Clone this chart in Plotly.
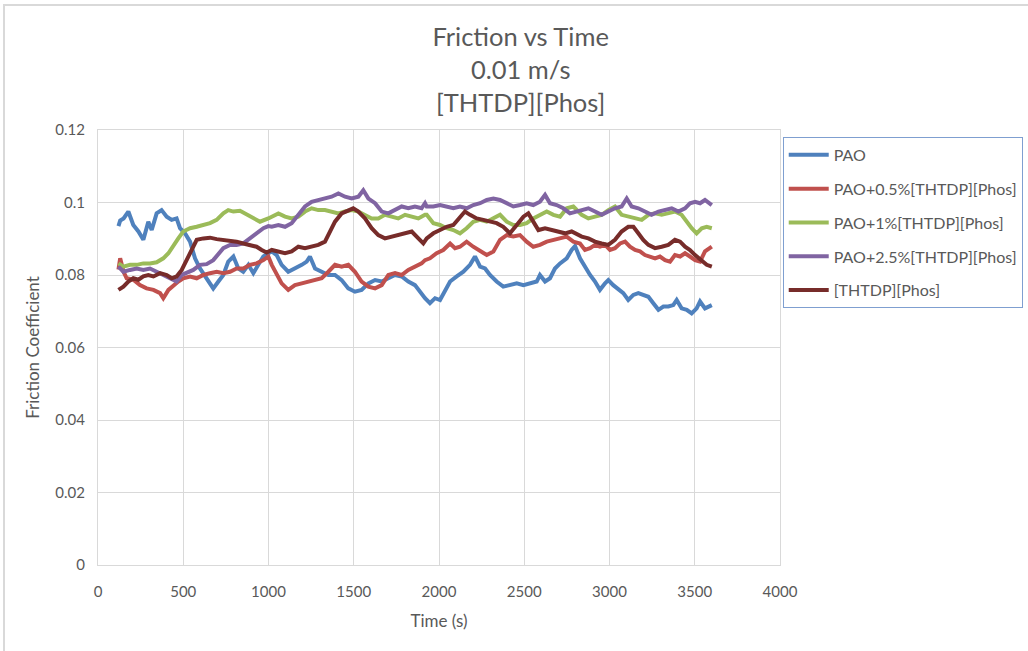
import plotly.graph_objects as go

# ---- data ----
pao_t = [120, 130, 150, 178, 207, 237, 266, 295, 315, 344, 373, 403, 432, 461, 481, 510, 540, 569, 598, 637, 676, 706, 735, 764, 794, 823, 852, 882, 911, 940, 970, 999,
         1019, 1048, 1077, 1116, 1155, 1195, 1224, 1243, 1273, 1312, 1351, 1390, 1429, 1468, 1507, 1546, 1586, 1625, 1664, 1703, 1742, 1781, 1820, 1859, 1898,
         1918, 1947, 1977, 2006, 2035, 2065, 2104, 2143, 2182, 2211, 2241, 2270, 2299, 2338, 2377, 2416, 2456, 2495, 2534, 2573, 2592, 2622, 2651, 2680, 2710, 2749, 2778, 2798,
         2827, 2856, 2886, 2915, 2944, 2974, 2993, 3022, 3052, 3081, 3110, 3140, 3169, 3198, 3228, 3257, 3287, 3316, 3345, 3374, 3394, 3423, 3453, 3482, 3511, 3531, 3560, 3600]
pao_f = [0.0935, 0.0950, 0.0956, 0.0975, 0.0938, 0.0920, 0.0897, 0.0947, 0.0924, 0.0970, 0.0979, 0.0961, 0.0952, 0.0956, 0.0929, 0.0915, 0.0892, 0.0846, 0.0818, 0.0791, 0.0763, 0.0782, 0.0800, 0.0837, 0.0851, 0.0818, 0.0809, 0.0828, 0.0805, 0.0828, 0.0851, 0.0860,
         0.0865, 0.0855, 0.0828, 0.0809, 0.0818, 0.0828, 0.0837, 0.0851, 0.0818, 0.0809, 0.0800, 0.0800, 0.0786, 0.0763, 0.0754, 0.0759, 0.0777, 0.0786, 0.0782, 0.0791, 0.0800, 0.0796, 0.0782, 0.0772, 0.0745,
         0.0736, 0.0722, 0.0736, 0.0731, 0.0759, 0.0782, 0.0796, 0.0809, 0.0828, 0.0851, 0.0823, 0.0818, 0.0800, 0.0782, 0.0768, 0.0772, 0.0777, 0.0772, 0.0777, 0.0782, 0.0800, 0.0782, 0.0791, 0.0818, 0.0832, 0.0846, 0.0869, 0.0880,
         0.0846, 0.0823, 0.0800, 0.0782, 0.0759, 0.0777, 0.0786, 0.0772, 0.0759, 0.0750, 0.0731, 0.0745, 0.0750, 0.0745, 0.0740, 0.0722, 0.0704, 0.0713, 0.0713, 0.0717, 0.0731, 0.0708, 0.0704, 0.0694, 0.0708, 0.0727, 0.0708, 0.0717]

p05_t = [120, 130, 150, 168, 207, 246, 285, 325, 364, 383, 413, 442, 471, 500, 540, 579, 618, 657, 696, 735, 774, 813, 852, 891, 930, 970, 999,
         1019, 1048, 1077, 1116, 1155, 1195, 1234, 1273, 1312, 1351, 1390, 1429, 1468, 1507, 1546, 1586, 1625, 1664, 1703, 1742, 1781, 1820, 1859, 1898, 1918,
         1947, 1986, 2025, 2065, 2094, 2123, 2162, 2201, 2241, 2280, 2319, 2358, 2397, 2436, 2475, 2514, 2553, 2592, 2632, 2671, 2710, 2749, 2788,
         2827, 2856, 2886, 2915, 2944, 2974, 3003, 3032, 3062, 3091, 3120, 3150, 3179, 3208, 3238, 3267, 3296, 3326, 3355, 3384, 3414, 3443, 3472, 3502, 3531, 3560, 3600]
p05_f = [0.0815, 0.0846, 0.0809, 0.0791, 0.0787, 0.0772, 0.0763, 0.0759, 0.0750, 0.0736, 0.0759, 0.0772, 0.0782, 0.0791, 0.0796, 0.0791, 0.0800, 0.0805, 0.0809, 0.0805, 0.0809, 0.0818, 0.0818, 0.0828, 0.0832, 0.0841, 0.0851,
         0.0828, 0.0800, 0.0777, 0.0759, 0.0772, 0.0777, 0.0782, 0.0786, 0.0791, 0.0809, 0.0828, 0.0823, 0.0828, 0.0809, 0.0782, 0.0768, 0.0763, 0.0772, 0.0800, 0.0805, 0.0800, 0.0814, 0.0823, 0.0832, 0.0841,
         0.0846, 0.0860, 0.0869, 0.0887, 0.0874, 0.0878, 0.0892, 0.0878, 0.0865, 0.0855, 0.0865, 0.0897, 0.0910, 0.0906, 0.0910, 0.0892, 0.0878, 0.0883, 0.0892, 0.0897, 0.0901, 0.0906, 0.0892,
         0.0887, 0.0869, 0.0874, 0.0883, 0.0878, 0.0883, 0.0869, 0.0874, 0.0887, 0.0892, 0.0878, 0.0869, 0.0865, 0.0855, 0.0851, 0.0846, 0.0851, 0.0841, 0.0837, 0.0855, 0.0851, 0.0860, 0.0851, 0.0841, 0.0837, 0.0865, 0.0878]

p1_t = [120, 149, 188, 227, 266, 305, 344, 383, 413, 442, 471, 500, 540, 579, 618, 657, 696, 735, 764, 794, 833, 872, 911, 950, 999,
        1019, 1058, 1097, 1136, 1175, 1214, 1253, 1292, 1331, 1370, 1410, 1449, 1488, 1527, 1566, 1605, 1644, 1683, 1722, 1761, 1801, 1840, 1879, 1918,
        1928, 1967, 2006, 2045, 2084, 2123, 2162, 2201, 2241, 2280, 2319, 2358, 2397, 2436, 2475, 2514, 2553, 2592, 2632, 2671, 2710, 2749, 2788,
        2837, 2876, 2915, 2954, 2993, 3032, 3071, 3110, 3150, 3189, 3228, 3267, 3306, 3345, 3384, 3423, 3453, 3482, 3511, 3541, 3570, 3600]
p1_f = [0.0832, 0.0823, 0.0828, 0.0828, 0.0832, 0.0832, 0.0835, 0.0846, 0.0860, 0.0883, 0.0901, 0.0920, 0.0929, 0.0933, 0.0938, 0.0943, 0.0952, 0.0970, 0.0979, 0.0975, 0.0977, 0.0966, 0.0956, 0.0947, 0.0956,
        0.0961, 0.0970, 0.0961, 0.0956, 0.0961, 0.0975, 0.0984, 0.0979, 0.0979, 0.0975, 0.0970, 0.0975, 0.0979, 0.0975, 0.0966, 0.0956, 0.0956, 0.0966, 0.0961, 0.0956, 0.0966, 0.0961, 0.0956, 0.0966,
        0.0966, 0.0943, 0.0938, 0.0929, 0.0924, 0.0915, 0.0929, 0.0947, 0.0952, 0.0947, 0.0956, 0.0966, 0.0947, 0.0938, 0.0938, 0.0943, 0.0956, 0.0966, 0.0975, 0.0966, 0.0961, 0.0984, 0.0989,
        0.0966, 0.0956, 0.0961, 0.0966, 0.0979, 0.0989, 0.0966, 0.0961, 0.0956, 0.0952, 0.0966, 0.0970, 0.0966, 0.0970, 0.0975, 0.0966, 0.0947, 0.0929, 0.0915, 0.0929, 0.0933, 0.0929]

p25_t = [120, 149, 188, 227, 266, 305, 344, 383, 422, 461, 491, 520, 559, 598, 637, 676, 706, 735, 774, 813, 852, 891, 930, 970, 999,
         1019, 1058, 1097, 1136, 1175, 1214, 1253, 1292, 1331, 1370, 1410, 1449, 1488, 1527, 1556, 1586, 1625, 1664, 1703, 1742, 1781, 1820, 1859, 1898, 1918,
         1928, 1967, 2006, 2045, 2084, 2123, 2162, 2201, 2241, 2280, 2319, 2358, 2397, 2436, 2475, 2514, 2553, 2592, 2622, 2651, 2690, 2729, 2768, 2808,
         2837, 2876, 2915, 2954, 2993, 3032, 3071, 3101, 3130, 3169, 3208, 3247, 3287, 3326, 3365, 3404, 3443, 3472, 3502, 3531, 3560, 3600]
p25_f = [0.0823, 0.0809, 0.0814, 0.0818, 0.0814, 0.0818, 0.0809, 0.0800, 0.0791, 0.0782, 0.0800, 0.0805, 0.0814, 0.0828, 0.0830, 0.0841, 0.0860, 0.0874, 0.0883, 0.0883, 0.0887, 0.0901, 0.0915, 0.0929, 0.0935,
         0.0933, 0.0938, 0.0933, 0.0943, 0.0966, 0.0989, 0.1002, 0.1007, 0.1011, 0.1016, 0.1025, 0.1016, 0.1011, 0.1016, 0.1034, 0.1011, 0.0998, 0.0975, 0.0970, 0.0979, 0.0989, 0.0984, 0.0989, 0.0984, 0.0998,
         0.0989, 0.0989, 0.0993, 0.0989, 0.0984, 0.0989, 0.0984, 0.0993, 0.0998, 0.1007, 0.1011, 0.1007, 0.0998, 0.0989, 0.0993, 0.0998, 0.0993, 0.1002, 0.1021, 0.0998, 0.0993, 0.0984, 0.0970, 0.0975,
         0.0979, 0.0984, 0.0975, 0.0966, 0.0975, 0.0984, 0.0989, 0.1011, 0.0989, 0.0984, 0.0975, 0.0966, 0.0975, 0.0979, 0.0984, 0.0975, 0.0984, 0.0998, 0.1002, 0.0998, 0.1007, 0.0993]

th_t = [120, 149, 178, 207, 237, 266, 295, 325, 364, 403, 432, 461, 491, 520, 549, 579, 618, 657, 696, 735, 774, 813, 852, 891, 930, 960, 989,
        1019, 1058, 1097, 1136, 1175, 1214, 1253, 1292, 1331, 1361, 1390, 1429, 1468, 1497, 1527, 1566, 1605, 1644, 1683, 1722, 1761, 1801, 1840, 1879, 1908,
        1928, 1967, 2006, 2045, 2084, 2123, 2152, 2182, 2221, 2260, 2299, 2338, 2377, 2416, 2456, 2495, 2524, 2553, 2583, 2622, 2661, 2700, 2739, 2778,
        2837, 2876, 2915, 2954, 2993, 3032, 3071, 3110, 3140, 3169, 3198, 3228, 3267, 3306, 3345, 3384, 3414, 3443, 3472, 3502, 3541, 3570, 3600]
th_f = [0.0759, 0.0768, 0.0782, 0.0791, 0.0787, 0.0796, 0.0800, 0.0796, 0.0805, 0.0800, 0.0791, 0.0796, 0.0814, 0.0841, 0.0874, 0.0897, 0.0901, 0.0903, 0.0899, 0.0897, 0.0894, 0.0892, 0.0887, 0.0883, 0.0878, 0.0869, 0.0862,
        0.0869, 0.0865, 0.0860, 0.0865, 0.0878, 0.0874, 0.0878, 0.0883, 0.0892, 0.0920, 0.0947, 0.0970, 0.0979, 0.0984, 0.0975, 0.0956, 0.0929, 0.0910, 0.0901, 0.0906, 0.0910, 0.0915, 0.0920, 0.0901, 0.0887,
        0.0901, 0.0915, 0.0924, 0.0933, 0.0938, 0.0961, 0.0975, 0.0966, 0.0956, 0.0952, 0.0947, 0.0943, 0.0933, 0.0915, 0.0938, 0.0961, 0.0970, 0.0947, 0.0924, 0.0929, 0.0924, 0.0920, 0.0915, 0.0920,
        0.0906, 0.0901, 0.0892, 0.0887, 0.0883, 0.0897, 0.0920, 0.0933, 0.0933, 0.0915, 0.0897, 0.0883, 0.0874, 0.0878, 0.0883, 0.0897, 0.0892, 0.0878, 0.0869, 0.0855, 0.0841, 0.0828, 0.0823]

series_names = ["PAO", "PAO+0.5%[THTDP][Phos]", "PAO+1%[THTDP][Phos]", "PAO+2.5%[THTDP][Phos]", "[THTDP][Phos]"]
series_colors = ["#4F81BD", "#C0504D", "#9BBB59", "#8064A2", "#772C2A"]
series_t = [pao_t, p05_t, p1_t, p25_t, th_t]
series_f = [pao_f, p05_f, p1_f, p25_f, th_f]

x_ticks = [0, 500, 1000, 1500, 2000, 2500, 3000, 3500, 4000]
y_ticks = [0, 0.02, 0.04, 0.06, 0.08, 0.1, 0.12]
y_tick_labels = ["0", "0.02", "0.04", "0.06", "0.08", "0.1", "0.12"]

FONT = "Lato"
GREY = "#595959"
GRID = "#D9D9D9"

fig = go.Figure()
for name, color, t, f in zip(series_names, series_colors, series_t, series_f):
    fig.add_trace(go.Scatter(x=t, y=f, mode="lines", name=name, legendgroup=name,
                             line=dict(color=color, width=4)))

fig.update_layout(
    width=1028, height=651,
    paper_bgcolor="white", plot_bgcolor="white",
    margin=dict(l=98, r=248, t=130, b=86, autoexpand=False),
    font=dict(family=FONT, color=GREY, size=15),
    title=dict(text="Friction vs Time<br>0.01 m/s<br>[THTDP][Phos]",
               x=0.5065, xanchor="center", y=0.93, yanchor="top",
               font=dict(family=FONT, size=25.5, color=GREY)),
    showlegend=True,
    legend=dict(x=1.004, xanchor="left", y=0.984, yanchor="top",
                bordercolor="#7F9FD0", borderwidth=1, bgcolor="white",
                font=dict(family=FONT, size=16, color=GREY),
                tracegroupgap=10, itemwidth=40,
                entrywidth=182, entrywidthmode="pixels"),
    xaxis=dict(range=[0, 4000], tickvals=x_ticks, ticktext=[str(v) for v in x_ticks],
               showgrid=True, gridcolor=GRID, gridwidth=1, zeroline=False,
               showline=True, linecolor=GRID, linewidth=1, mirror=True, ticks="",
               ticklabelstandoff=13,
               tickfont=dict(family=FONT, size=15, color=GREY),
               title=dict(text="Time (s)", font=dict(family=FONT, size=17, color=GREY), standoff=16)),
    yaxis=dict(range=[0, 0.12], tickvals=y_ticks, ticktext=y_tick_labels,
               showgrid=True, gridcolor=GRID, gridwidth=1, zeroline=False,
               showline=True, linecolor=GRID, linewidth=1, mirror=True, ticks="",
               ticklabelstandoff=9,
               tickfont=dict(family=FONT, size=15, color=GREY),
               title=dict(text="Friction Coefficient", font=dict(family=FONT, size=17, color=GREY), standoff=11)),
    shapes=[dict(type="rect", xref="paper", yref="paper",
                 x0=(4 - 98) / 682, x1=(1040 - 98) / 682,
                 y0=(565 - 660) / 435, y1=(565 - 5) / 435,
                 line=dict(color=GRID, width=2), fillcolor="rgba(0,0,0,0)", layer="below")],
)

fig.write_html("out.html", config={"displayModeBar": False},
               post_script="document.body.style.margin='0';document.body.style.overflow='hidden';")
